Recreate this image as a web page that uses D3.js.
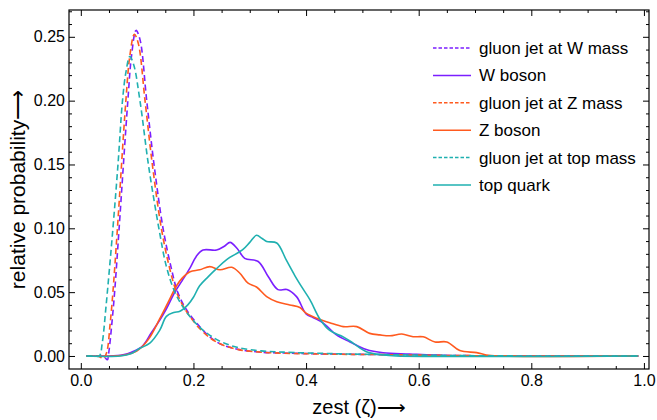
<!DOCTYPE html>
<html>
<head>
<meta charset="utf-8">
<script src="https://cdn.jsdelivr.net/npm/d3@7"></script>
<style>
  body { margin: 0; background: #fff; }
  text { font-family: "Liberation Sans", Arial, sans-serif; }
</style>
</head>
<body>
<script>
// data: [zest, relative probability]
var gluonW = [[0.01,0],[0.03,0],[0.042,-0.001],[0.047,-0.003],[0.05,0.004],[0.055,0.025],[0.06,0.05],
  [0.068,0.10],[0.0835,0.20],[0.09,0.235],[0.098,0.255],[0.105,0.248],[0.117,0.20],[0.13,0.15],
  [0.146,0.10],[0.16,0.07],[0.172,0.05],[0.188,0.036],[0.211,0.023],[0.229,0.015],[0.25,0.009],
  [0.282,0.005],[0.32,0.003],[0.36,0.0023],[0.45,0.0015],[0.55,0.001],[0.65,0.0004],[0.8,0],[0.99,0]];
var wBoson = [[0.01,0],[0.05,0],[0.075,0.001],[0.09,0.003],[0.11,0.008],[0.125,0.018],[0.14,0.028],
  [0.152,0.037],[0.167,0.05],[0.18,0.059],[0.194,0.069],[0.205,0.078],[0.217,0.083],[0.241,0.083],
  [0.255,0.086],[0.265,0.089],[0.278,0.084],[0.291,0.0765],[0.315,0.074],[0.333,0.062],[0.35,0.052],
  [0.366,0.052],[0.383,0.0465],[0.40,0.033],[0.413,0.03],[0.43,0.026],[0.454,0.0165],[0.478,0.011],
  [0.507,0.005],[0.537,0.0025],[0.584,0.0015],[0.65,0.0003],[0.7,0],[0.99,0]];
var gluonZ = [[0.01,0],[0.03,0],[0.04,-0.002],[0.046,0.003],[0.052,0.025],[0.057,0.05],[0.065,0.10],
  [0.08,0.20],[0.087,0.235],[0.095,0.252],[0.102,0.245],[0.114,0.20],[0.127,0.15],[0.143,0.10],
  [0.157,0.07],[0.17,0.05],[0.186,0.036],[0.21,0.022],[0.23,0.014],[0.25,0.009],[0.28,0.005],
  [0.32,0.003],[0.36,0.0022],[0.45,0.0014],[0.55,0.001],[0.65,0.0004],[0.8,0],[0.99,0]];
var zBoson = [[0.01,0],[0.06,0],[0.08,0.001],[0.1,0.004],[0.12,0.013],[0.14,0.029],[0.155,0.042],
  [0.17,0.055],[0.18,0.061],[0.194,0.066],[0.211,0.0675],[0.229,0.070],[0.247,0.0675],[0.268,0.0695],
  [0.282,0.065],[0.297,0.057],[0.312,0.054],[0.33,0.0465],[0.348,0.0425],[0.371,0.040],[0.389,0.038],
  [0.40,0.0335],[0.419,0.0295],[0.442,0.026],[0.466,0.023],[0.49,0.023],[0.513,0.0177],[0.531,0.0165],
  [0.549,0.0158],[0.57,0.0172],[0.59,0.0151],[0.608,0.015],[0.629,0.011],[0.65,0.011],[0.673,0.0042],
  [0.703,0.0026],[0.72,0.0008],[0.74,0],[0.99,0]];
var gluonTop = [[0.01,0],[0.025,0],[0.033,0],[0.038,0.01],[0.045,0.04],[0.057,0.10],[0.066,0.15],
  [0.074,0.20],[0.08,0.222],[0.087,0.2346],[0.094,0.228],[0.105,0.20],[0.12,0.15],[0.1386,0.10],
  [0.152,0.07],[0.167,0.05],[0.185,0.036],[0.21,0.023],[0.23,0.016],[0.25,0.011],[0.28,0.0065],
  [0.32,0.004],[0.36,0.003],[0.45,0.0018],[0.55,0.001],[0.65,0.0004],[0.8,0],[0.99,0]];
var topQuark = [[0.01,0],[0.07,0],[0.09,0.002],[0.105,0.006],[0.1225,0.01],[0.14,0.02],[0.152,0.031],
  [0.165,0.034],[0.176,0.035],[0.19,0.040],[0.2,0.046],[0.211,0.055],[0.226,0.062],[0.24,0.068],
  [0.259,0.0755],[0.288,0.0835],[0.30,0.089],[0.312,0.0945],[0.322,0.092],[0.33,0.0897],[0.348,0.0885],
  [0.365,0.075],[0.38,0.063],[0.392,0.0543],[0.407,0.044],[0.4245,0.029],[0.442,0.020],[0.466,0.015],
  [0.484,0.0099],[0.507,0.0034],[0.537,0.0008],[0.56,0],[0.99,0]];

var seriesNames = ["gluon jet at W mass", "W boson", "gluon jet at Z mass", "Z boson",
  "gluon jet at top mass", "top quark"];
var seriesData = [gluonW, wBoson, gluonZ, zBoson, gluonTop, topQuark];
var seriesColors = ["#7b1fff", "#7b1fff", "#ff5a1f", "#ff5a1f", "#1fb0b0", "#1fb0b0"];
var seriesDashed = [true, false, true, false, true, false];

var xMajor = [0, 0.2, 0.4, 0.6, 0.8, 1.0];
var yMajor = [0, 0.05, 0.10, 0.15, 0.20, 0.25];

// svg container
var width = 657, height = 420;
var frame = { left: 69, right: 649, top: 10, bottom: 369 };

var svg = d3.select("body").append("svg")
    .attr("width", width)
    .attr("height", height);

var x = d3.scaleLinear().domain([-0.021, 1.009]).range([frame.left, frame.right]);
var y = d3.scaleLinear().domain([-0.0102, 0.271]).range([frame.bottom, frame.top]);

var xMinor = d3.range(0, 1.0001, 0.05).filter(v => xMajor.indexOf(+v.toFixed(2)) < 0);
var yMinor = d3.range(0, 0.2701, 0.01).filter(v => yMajor.indexOf(+v.toFixed(2)) < 0);

// curves
var line = d3.line()
    .x(d => x(d[0]))
    .y(d => y(d[1]))
    .curve(d3.curveCatmullRom.alpha(0.5));

var plot = svg.append("g");
seriesData.forEach(function(data, i) {
  plot.append("path")
      .attr("d", line(data))
      .attr("fill", "none")
      .attr("stroke", seriesColors[i])
      .attr("stroke-width", 1.6)
      .attr("stroke-dasharray", seriesDashed[i] ? "6,3.5" : null);
});

// axes, ticks inward on all four sides
function styleAxis(g) {
  g.select(".domain").remove();
  g.selectAll(".tick line").attr("stroke", "#000");
  g.selectAll(".tick text").attr("fill", "#000").style("font-size", "16px");
}

svg.append("g")
    .attr("transform", `translate(0, ${frame.bottom})`)
    .call(d3.axisBottom(x).tickValues(xMajor).tickFormat(d3.format(".1f")).tickSize(-6).tickPadding(6))
    .call(styleAxis);
svg.append("g")
    .attr("transform", `translate(0, ${frame.bottom})`)
    .call(d3.axisBottom(x).tickValues(xMinor).tickFormat("").tickSize(-3))
    .call(styleAxis);
svg.append("g")
    .attr("transform", `translate(0, ${frame.top})`)
    .call(d3.axisTop(x).tickValues(xMajor).tickFormat("").tickSize(-6))
    .call(styleAxis);
svg.append("g")
    .attr("transform", `translate(0, ${frame.top})`)
    .call(d3.axisTop(x).tickValues(xMinor).tickFormat("").tickSize(-3))
    .call(styleAxis);

svg.append("g")
    .attr("transform", `translate(${frame.left}, 0)`)
    .call(d3.axisLeft(y).tickValues(yMajor).tickFormat(d3.format(".2f")).tickSize(-6).tickPadding(4))
    .call(styleAxis);
svg.append("g")
    .attr("transform", `translate(${frame.left}, 0)`)
    .call(d3.axisLeft(y).tickValues(yMinor).tickFormat("").tickSize(-3))
    .call(styleAxis);
svg.append("g")
    .attr("transform", `translate(${frame.right}, 0)`)
    .call(d3.axisRight(y).tickValues(yMajor).tickFormat("").tickSize(-6))
    .call(styleAxis);
svg.append("g")
    .attr("transform", `translate(${frame.right}, 0)`)
    .call(d3.axisRight(y).tickValues(yMinor).tickFormat("").tickSize(-3))
    .call(styleAxis);

// frame
svg.append("rect")
    .attr("x", frame.left)
    .attr("y", frame.top)
    .attr("width", frame.right - frame.left)
    .attr("height", frame.bottom - frame.top)
    .attr("fill", "none")
    .attr("stroke", "#000")
    .attr("stroke-width", 1.2);

// axis titles
svg.append("text")
    .attr("x", (frame.left + frame.right) / 2)
    .attr("y", 414)
    .attr("text-anchor", "middle")
    .style("font-size", "20px")
    .text("zest (\u03b6)\u27f6");
svg.append("text")
    .attr("transform", `translate(25, ${(frame.top + frame.bottom) / 2}) rotate(-90)`)
    .attr("text-anchor", "middle")
    .style("font-size", "21px")
    .text("relative probability\u27f6");

// legend
var legend = svg.append("g").attr("transform", "translate(433, 48)");
seriesNames.forEach(function(name, i) {
  var row = legend.append("g").attr("transform", `translate(0, ${i * 27.4})`);
  row.append("line")
      .attr("x1", 0).attr("x2", 38)
      .attr("stroke", seriesColors[i])
      .attr("stroke-width", 1.5)
      .attr("stroke-dasharray", seriesDashed[i] ? "3.5,2" : null);
  row.append("text")
      .attr("x", 46)
      .attr("dy", "0.35em")
      .style("font-size", "17px")
      .text(name);
});
</script>
</body>
</html>
